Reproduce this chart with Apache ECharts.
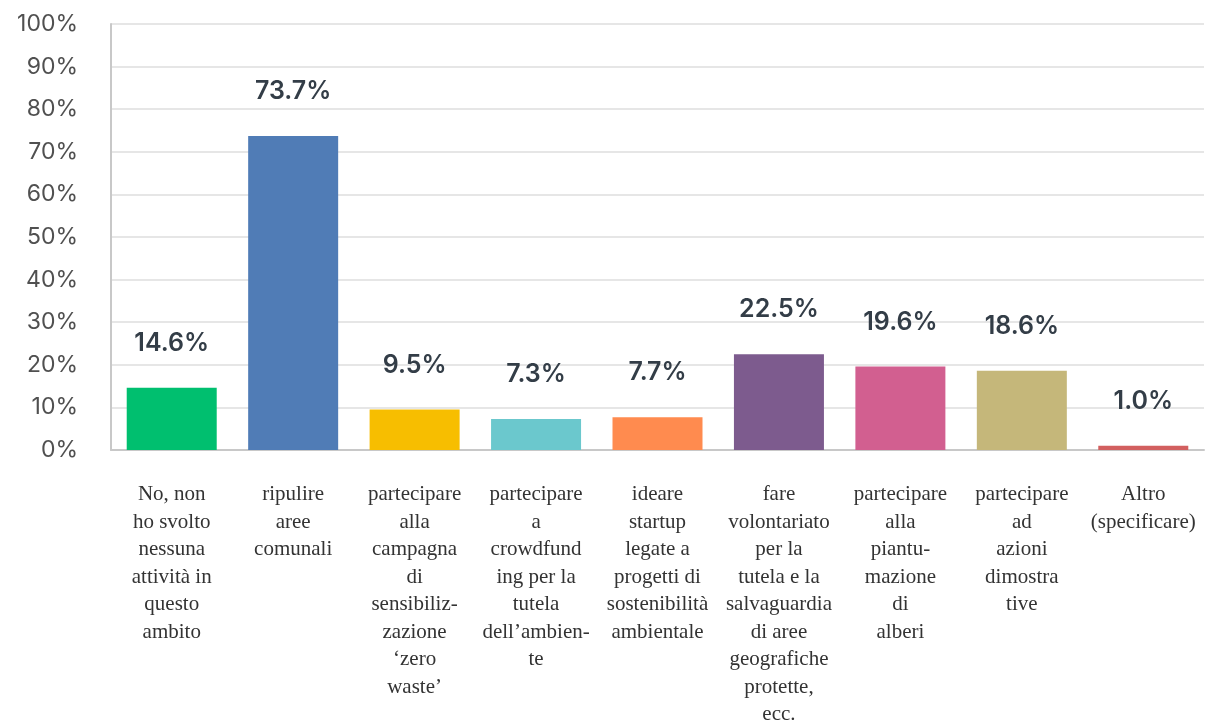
<!DOCTYPE html>
<html>
<head>
<meta charset="utf-8">
<script src="https://cdn.jsdelivr.net/npm/echarts@6/dist/echarts.min.js"></script>
<style>
  html, body { margin: 0; padding: 0; background: #ffffff; }
  #chart { width: 1218px; height: 724px; }
</style>
</head>
<body>
<div id="chart"></div>
<script>
// Activities carried out (share of respondents, %)
const categories = [
  'No, non\nho svolto\nnessuna\nattività in\nquesto\nambito',
  'ripulire\naree\ncomunali',
  'partecipare\nalla\ncampagna\ndi\nsensibiliz-\nzazione\n‘zero\nwaste’',
  'partecipare\na\ncrowdfund\ning per la\ntutela\ndell’ambien-\nte',
  'ideare\nstartup\nlegate a\nprogetti di\nsostenibilità\nambientale',
  'fare\nvolontariato\nper la\ntutela e la\nsalvaguardia\ndi aree\ngeografiche\nprotette,\necc.',
  'partecipare\nalla\npiantu-\nmazione\ndi\nalberi',
  'partecipare\nad\nazioni\ndimostra\ntive',
  'Altro\n(specificare)'
];
const values = [14.6, 73.7, 9.5, 7.3, 7.7, 22.5, 19.6, 18.6, 1.0];
const barColors = ['#00BF6F', '#507CB6', '#F7BE00', '#6BC8CD', '#FF8B4F', '#7D5B8E', '#D25F90', '#C5B77A', '#D25F5F'];
const yTicks = { min: 0, max: 100, interval: 10 };

const chart = echarts.init(document.getElementById('chart'), null, { renderer: 'canvas' });
chart.setOption({
  backgroundColor: '#ffffff',
  animation: false,
  grid: { left: 111, right: 14, top: 24, bottom: 274, outerBoundsMode: 'none', containLabel: false },
  xAxis: {
    type: 'category',
    data: categories,
    axisLine: { show: true, lineStyle: { color: '#c8c8c8', width: 2 } },
    axisTick: { show: false },
    axisLabel: {
      interval: 0,
      margin: 31,
      color: '#333333',
      fontFamily: 'Liberation Serif',
      fontSize: 21,
      lineHeight: 27.5,
      verticalAlign: 'top'
    }
  },
  yAxis: {
    type: 'value',
    min: yTicks.min,
    max: yTicks.max,
    interval: yTicks.interval,
    axisLine: { show: true, lineStyle: { color: '#c8c8c8', width: 2 } },
    axisTick: { show: false },
    splitLine: { show: true, lineStyle: { color: '#e6e6e6', width: 2 } },
    axisLabel: {
      formatter: '{value}%',
      margin: 33,
      color: '#505050',
      fontFamily: 'Inter',
      fontSize: 23
    }
  },
  series: [{
    type: 'bar',
    barWidth: 90,
    data: values.map((v, i) => ({ value: v, itemStyle: { color: barColors[i] } })),
    label: {
      show: true,
      position: 'top',
      distance: 32,
      formatter: (p) => p.value.toFixed(1) + '%',
      color: '#333d47',
      fontFamily: 'Inter',
      fontWeight: 600,
      fontSize: 25
    }
  }]
});
</script>
</body>
</html>
